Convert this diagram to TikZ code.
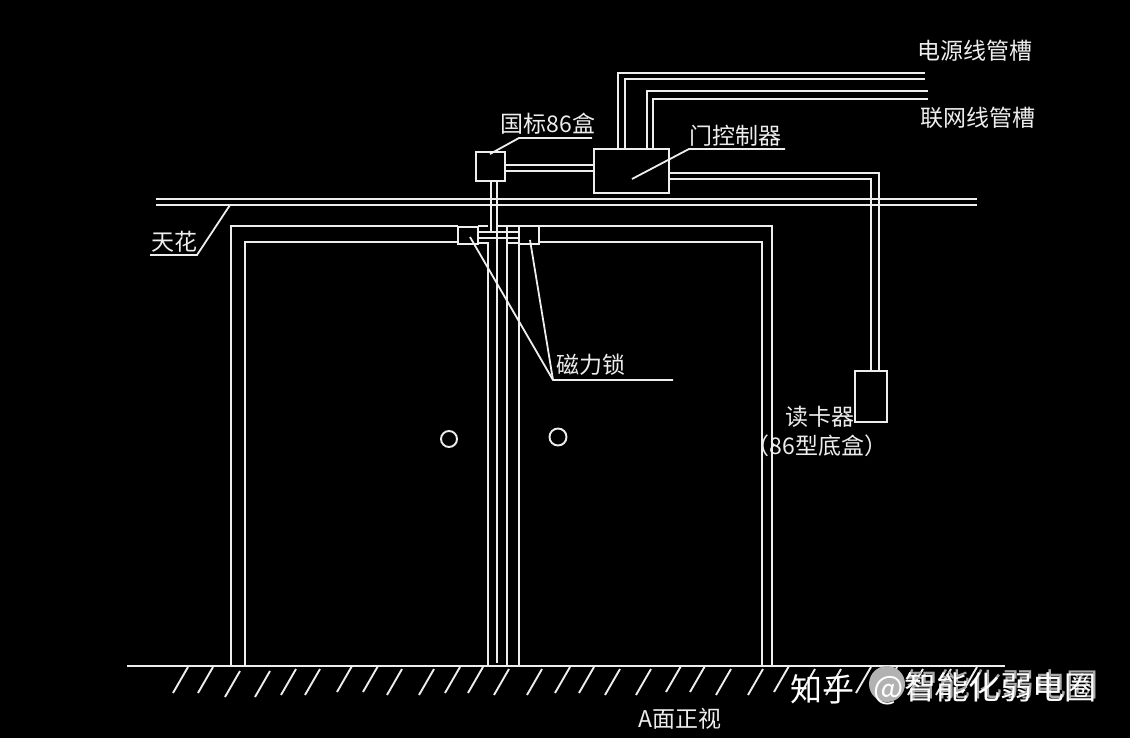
\documentclass[tikz,border=0pt]{standalone}
\usepackage{fontspec}
\usepackage{xcolor}
\newfontfamily\cjk{Noto Sans CJK SC}
\usetikzlibrary{positioning,calc}
\definecolor{cadwhite}{gray}{0.93}
\tikzset{
    wire/.style={cadwhite, line width=1.9pt},
    leader/.style={cadwhite, line width=1.8pt},
    lbl/.style={text=cadwhite, inner sep=0pt, font=\cjk\fontsize{23}{23}\selectfont},
    stamp/.style={text=white, inner sep=0pt, font=\cjk\fontsize{32}{32}\selectfont}
}

\begin{document}
\begin{tikzpicture}[x=1pt,y=-1pt]
    \fill[black] (0,0) rectangle (1130,738);
    \useasboundingbox (0,0) rectangle (1130,738);

    % Ceiling
    \draw[wire] (156,199) -- (977,199);
    \draw[wire] (156,205) -- (977,205);
    \node[lbl] (ceilingtext) at (174,242) {天花};
    \draw[leader] (230,205) -- (197,255) -- (150,255);

    % Door frame
    \draw[wire] (231,665) -- (231,226) -- (458,226);
    \draw[wire] (245,665) -- (245,242) -- (458,242);
    \draw[wire] (772,665) -- (772,226) -- (507,226) -- (507,665);
    \draw[wire] (762,665) -- (762,242) -- (539,242);
    \draw[wire] (488,665) -- (488,243) -- (478,243);
    \draw[wire] (519,665) -- (519,243) -- (507,243);
    \draw[wire] (478,226) -- (488,226);
    \draw[wire] (497,226) -- (507,226);

    % Magnetic locks
    \draw[wire] (458,227) rectangle (478,244);
    \draw[wire] (519,226) rectangle (539,244);
    \draw[wire] (478,232) -- (519,232);
    \draw[wire] (478,238) -- (519,238);

    % Door handles
    \draw[wire] (449,439) circle (8);
    \draw[wire] (558,437) circle (8.5);

    % Boxes
    \node[draw=cadwhite, line width=1.9pt, minimum width=29pt, minimum height=29pt, inner sep=0pt] (boxjunction) at (490.5,166.5) {};
    \node[draw=cadwhite, line width=1.9pt, minimum width=75pt, minimum height=44pt, inner sep=0pt] (controller) at (631.5,171) {};
    \node[draw=cadwhite, line width=1.9pt, minimum width=32pt, minimum height=51pt, inner sep=0pt] (reader) at (871,396.5) {};

    % Conduits
    \draw[wire] (491,181) -- (491,232);
    \draw[wire] (497,181) -- (497,663);
    \draw[wire] (505,165) -- (594,165);
    \draw[wire] (505,171) -- (594,171);
    \draw[wire] (618,149) -- (618,73) -- (925,73);
    \draw[wire] (625,149) -- (625,79) -- (925,79);
    \draw[wire] (647,149) -- (647,91) -- (928,91);
    \draw[wire] (653,149) -- (653,99) -- (928,99);
    \draw[wire] (669,173) -- (879,173) -- (879,371);
    \draw[wire] (669,179) -- (871,179) -- (871,371);

    % Ground
    \draw[wire] (127,666) -- (1005,666);
    \foreach \x/\y in {173/693,198/693,225/697,255/697,281/695,305/695,337/692,363/692,387/695,419/695,445/693,468/693,494/695,527/695,555/693,579/693,605/695,636/695,666/692,690/692,716/695,748/695,774/692,800/695,826/695,856/693,882/693,908/695,936/695,962/693} {
        \draw[wire] (\x,\y) -- ($(\x,\y)+(15,-26)$);
    }

    % Labels
    \node[lbl] (junctiontext) at (548,124) {国标86盒};
    \draw[leader] (490,154) -- (519,138) -- (592,138);
    \node[lbl] (controllertext) at (735,136) {门控制器};
    \draw[leader] (632,179) -- (689,149) -- (785,149);
    \node[lbl] (powertext) at (975,51) {电源线管槽};
    \node[lbl] (networktext) at (978,118) {联网线管槽};
    \node[lbl] (locktext) at (591,365) {磁力锁};
    \draw[leader] (470,237) -- (553,380) -- (673,380);
    \draw[leader] (530,240) -- (553,380);
    \node[lbl] (readertext) at (820,417) {读卡器};
    \node[lbl] (readernote) at (817,446) {（86型底盒）};
    \node[lbl] (viewtext) at (680,719) {A面正视};

    % Watermark
    \fill[gray!60] (887,684) ellipse (18 and 18);
    \node[stamp, text=gray!65] (markshadow) at (1002,684) {智能化弱电圈};
    \node[stamp] (marksite) at (822,689) {知乎};
    \node[stamp] (markuser) at (985,689) {@智能化弱电圈};
\end{tikzpicture}
\end{document}
